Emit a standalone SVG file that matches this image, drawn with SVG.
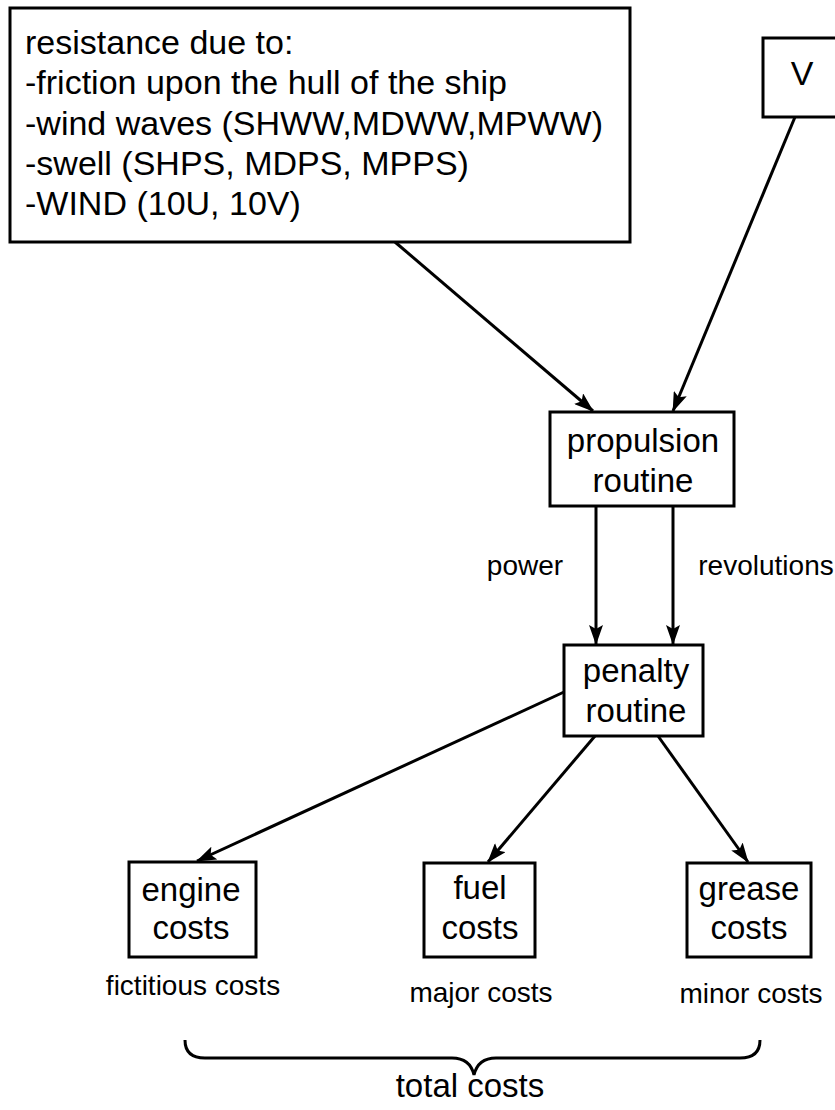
<svg xmlns="http://www.w3.org/2000/svg" width="835" height="1110" viewBox="0 0 835 1110">
<defs>
<style>
text{font-family:"Liberation Sans",Arial,Helvetica,sans-serif;fill:#000}
.n{font-size:33px;text-anchor:middle}
.t{font-size:34px}
.l{font-size:28px;text-anchor:middle}
.box{fill:#fff;stroke:#000;stroke-width:3}
.c{fill:none;stroke:#000;stroke-width:3}
</style>
<marker id="ah" viewBox="0 0 20 14" refX="19" refY="7" markerWidth="20" markerHeight="14" markerUnits="userSpaceOnUse" orient="auto">
<path d="M0,0 L20,7 L0,14 L4,7 z" fill="#000"/>
</marker>
</defs>
<rect width="835" height="1110" fill="#fff"/>
<g id="connectors">
<line class="c" x1="395" y1="242" x2="593" y2="411" marker-end="url(#ah)"/>
<line class="c" x1="795" y1="117" x2="673" y2="411" marker-end="url(#ah)"/>
<line class="c" x1="596" y1="506" x2="596" y2="644" marker-end="url(#ah)"/>
<line class="c" x1="673" y1="506" x2="673" y2="644" marker-end="url(#ah)"/>
<line class="c" x1="564" y1="692" x2="197" y2="861" marker-end="url(#ah)"/>
<line class="c" x1="595" y1="736" x2="488" y2="862" marker-end="url(#ah)"/>
<line class="c" x1="658" y1="736" x2="748" y2="862" marker-end="url(#ah)"/>
<text class="l" x="525" y="575">power</text>
<text class="l" x="766" y="575">revolutions</text>
</g>
<g id="resistance">
<rect class="box" x="10" y="8" width="620" height="234"/>
<text class="t" x="25" y="54">resistance due to:</text>
<text class="t" x="25" y="94">-friction upon the hull of the ship</text>
<text class="t" x="25" y="135">-wind waves (SHWW,MDWW,MPWW)</text>
<text class="t" x="25" y="175">-swell (SHPS, MDPS, MPPS)</text>
<text class="t" x="25" y="215">-WIND (10U, 10V)</text>
</g>
<g id="v">
<rect class="box" x="763" y="38" width="80" height="79"/>
<text class="n" x="802" y="85" style="font-size:34px">V</text>
</g>
<g id="propulsion">
<rect class="box" x="550" y="412" width="184" height="94"/>
<text class="n" x="643" y="452">propulsion</text>
<text class="n" x="643" y="492">routine</text>
</g>
<g id="penalty">
<rect class="box" x="564" y="645" width="139" height="91"/>
<text class="n" x="636" y="682">penalty</text>
<text class="n" x="636" y="722">routine</text>
</g>
<g id="engine">
<rect class="box" x="129" y="862" width="127" height="95"/>
<text class="n" x="191" y="901">engine</text>
<text class="n" x="191" y="939">costs</text>
<text class="l" x="193" y="995">fictitious costs</text>
</g>
<g id="fuel">
<rect class="box" x="424" y="863" width="111" height="94"/>
<text class="n" x="480" y="899">fuel</text>
<text class="n" x="480" y="939">costs</text>
<text class="l" x="481" y="1002">major costs</text>
</g>
<g id="grease">
<rect class="box" x="687" y="863" width="124" height="94"/>
<text class="n" x="749" y="900">grease</text>
<text class="n" x="749" y="939">costs</text>
<text class="l" x="751" y="1003">minor costs</text>
</g>
<g id="total">
<path class="c" d="M185,1040 Q185,1058 205,1058 L452,1058 Q470,1058 474,1075 Q478,1058 496,1058 L740,1058 Q760,1058 760,1040"/>
<text class="n" x="470" y="1097">total costs</text>
</g>
</svg>
